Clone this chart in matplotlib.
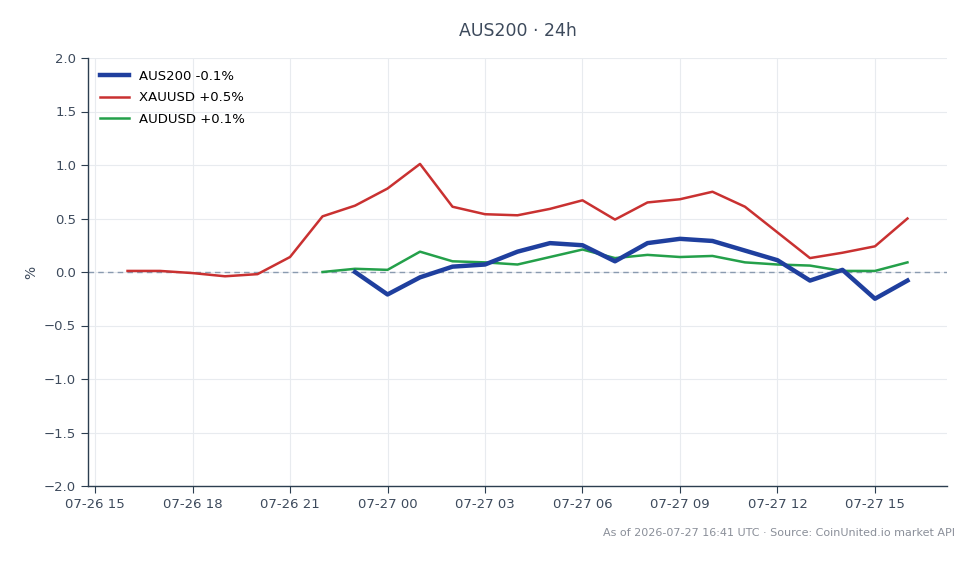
import numpy as np
import pandas as pd
import matplotlib
matplotlib.use("Agg")
import matplotlib.pyplot as plt
import matplotlib.dates as mdates

# hourly timestamps
times = pd.date_range("2026-07-26 16:00", "2026-07-27 16:00", freq="h")

xauusd = [0.01, 0.01, -0.01, -0.04, -0.02, 0.14, 0.52, 0.62, 0.78, 1.01, 0.61, 0.54, 0.53,
          0.59, 0.67, 0.49, 0.65, 0.68, 0.75, 0.61, 0.37, 0.13, 0.18, 0.24, 0.50]
audusd = [0.00, 0.03, 0.02, 0.19, 0.10, 0.09, 0.07, 0.14, 0.21, 0.13, 0.16, 0.14, 0.15,
          0.09, 0.07, 0.06, 0.01, 0.01, 0.09]
aus200 = [0.00, -0.21, -0.05, 0.05, 0.07, 0.19, 0.27, 0.25, 0.10, 0.27, 0.31, 0.29, 0.20,
          0.11, -0.08, 0.02, -0.25, -0.08]

labels = ["AUS200 -0.1%", "XAUUSD +0.5%", "AUDUSD +0.1%"]

fig = plt.figure(figsize=(9.79, 5.64), dpi=100)
ax = fig.add_axes([88/979, 1-486/564, (947-88)/979, (486-58)/564])

ax.axhline(0, color="#8a9bb0", lw=1, ls=(0, (4, 3)), zorder=1)
ax.plot(times[-len(aus200):], aus200, color="#1f3f9e", lw=3.2, label=labels[0], zorder=4)
ax.plot(times[-len(xauusd):], xauusd, color="#c93131", lw=1.8, label=labels[1], zorder=3)
ax.plot(times[-len(audusd):], audusd, color="#24a04a", lw=1.8, label=labels[2], zorder=3)

ax.set_ylim(-2, 2)
ax.set_yticks(np.arange(-2, 2.01, 0.5))
ax.set_xlim(pd.Timestamp("2026-07-26 14:47"), pd.Timestamp("2026-07-27 17:13"))
ax.xaxis.set_major_locator(mdates.HourLocator(byhour=range(0, 24, 3)))
ax.xaxis.set_major_formatter(mdates.DateFormatter("%m-%d %H"))

ax.grid(True, color="#e8ebef", lw=0.8)
ax.set_axisbelow(True)
for s in ["top", "right"]:
    ax.spines[s].set_visible(False)
for s in ["left", "bottom"]:
    ax.spines[s].set_color("#2c3e50")
    ax.spines[s].set_linewidth(1.0)
ax.tick_params(colors="#2c3e50", labelsize=9.5, length=5, labelcolor="#3d4a5c")
ax.set_ylabel("%", color="#3d4a5c", fontsize=10)

ax.legend(loc="upper left", frameon=False, fontsize=9.5, handlelength=2.2,
          borderaxespad=0.5, labelspacing=0.65)

fig.text((88+947)/2/979, 1-31/564, "AUS200 · 24h", ha="center", va="center",
         fontsize=12.5, color="#3d4a5c")
fig.text(955/979, 1-533/564, "As of 2026-07-27 16:41 UTC · Source: CoinUnited.io market API",
         ha="right", va="center", fontsize=8, color="#8a8f99")

fig.savefig("out.png", dpi=100)
